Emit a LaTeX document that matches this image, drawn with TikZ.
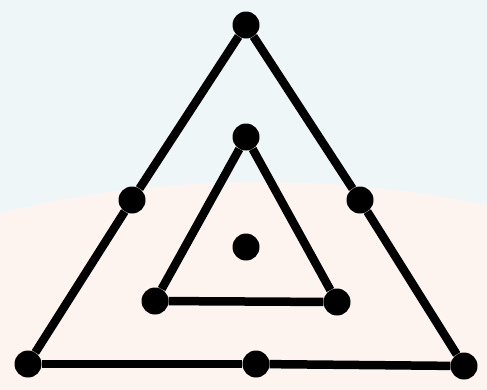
\documentclass[tikz,border=0pt]{standalone}
\usepackage{xcolor}
\usepackage{tikz}
\definecolor{skypale}{HTML}{EEF6F8}
\definecolor{sandpale}{HTML}{FDF4EF}

\begin{document}
\begin{tikzpicture}[
  x=1pt,y=-1pt,
  dot/.style={circle,fill=black,inner sep=0pt,minimum size=27pt},
  edge/.style={line width=8.5pt,draw=black}
]
% background
\fill[skypale] (0,0) rectangle (487,389);
\begin{scope}
  \clip (0,0) rectangle (487,389);
  \fill[sandpale] (260,394) ellipse [x radius=500,y radius=212];
\end{scope}
\useasboundingbox (0,0) rectangle (487,389);

\node[dot] (top) at (246,25) {};
\node[dot] (leftmid) at (132,200) {};
\node[dot] (rightmid) at (360,200) {};
\node[dot] (botleft) at (28,364) {};
\node[dot] (botmid) at (256,364) {};
\node[dot] (botright) at (464,366) {};
\node[dot] (intop) at (246,137) {};
\node[dot] (inleft) at (155,301) {};
\node[dot] (inright) at (337,302) {};
\node[dot] (centre) at (246,247) {};

\draw[edge] (top) -- (leftmid);
\draw[edge] (leftmid) -- (botleft);
\draw[edge] (botleft) -- (botmid);
\draw[edge] (botmid) -- (botright);
\draw[edge] (botright) -- (rightmid);
\draw[edge] (rightmid) -- (top);
\draw[edge] (intop) -- (inleft);
\draw[edge] (inleft) -- (inright);
\draw[edge] (inright) -- (intop);
\end{tikzpicture}
\end{document}
